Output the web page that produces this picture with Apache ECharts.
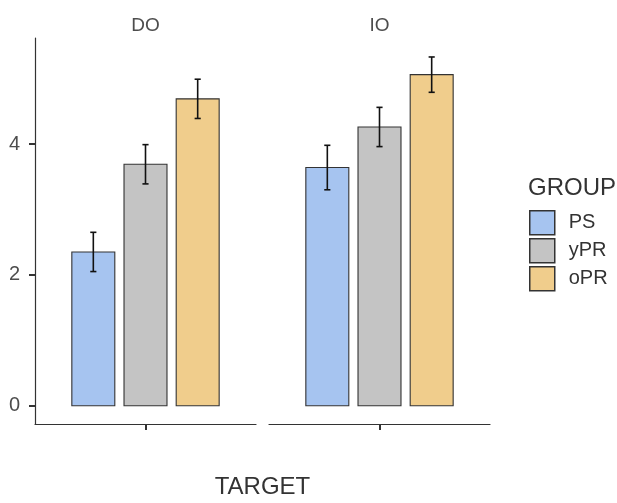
<!DOCTYPE html>
<html>
<head>
<meta charset="utf-8">
<script src="https://cdn.jsdelivr.net/npm/echarts@6/dist/echarts.min.js"></script>
<style>
  html, body { margin: 0; padding: 0; background: #fff; }
  #chart { width: 617px; height: 503px; }
</style>
</head>
<body>
<div id="chart"></div>
<script>
// Facets (TARGET) and fill groups
const targets = ['DO', 'IO'];
const groups = ['PS', 'yPR', 'oPR'];

// Group means per target (DO, IO)
const meanPS  = [2.35, 3.64];
const meanYPR = [3.69, 4.26];
const meanOPR = [4.69, 5.06];

// Standard errors per target (DO, IO)
const sePS  = [0.30, 0.34];
const seYPR = [0.30, 0.30];
const seOPR = [0.30, 0.27];

// Y tick labels
const yTicks = [0, 2, 4];

const means = [meanPS, meanYPR, meanOPR];
const ses = [sePS, seYPR, seOPR];
const fills = ['#a6c4f0', '#c4c4c4', '#f0cd8c'];

// dodge layout in x-data units (single category at x = 1)
const DODGE = 0.85, BAR_W = 0.7, CAP_W = 0.1;
const slot = DODGE / groups.length;
const halfBar = BAR_W / groups.length / 2;
const halfCap = CAP_W / groups.length / 2;

const FONT = "'Liberation Sans', Arial, sans-serif";
const AXIS_COLOR = '#333333';
const TEXT_COLOR = '#4d4d4d';

const gridLeft = [35, 269];
const gridWidth = 221;
const gridTop = 38;
const gridHeight = 386;

function renderBar(params, api) {
  const x = api.value(0), m = api.value(1), s = api.value(2);
  const b0 = api.coord([x - halfBar, 0]);
  const b1 = api.coord([x + halfBar, m]);
  const eTop = api.coord([x, m + s]);
  const eBot = api.coord([x, m - s]);
  const cL = api.coord([x - halfCap, m])[0];
  const cR = api.coord([x + halfCap, m])[0];
  const errStyle = { stroke: '#111', lineWidth: 1.6 };
  return {
    type: 'group',
    children: [
      {
        type: 'rect',
        shape: { x: b0[0], y: b1[1], width: b1[0] - b0[0], height: b0[1] - b1[1] },
        style: { fill: api.visual('color'), stroke: AXIS_COLOR, lineWidth: 1.1 }
      },
      { type: 'line', shape: { x1: eTop[0], y1: eTop[1], x2: eBot[0], y2: eBot[1] }, style: errStyle },
      { type: 'line', shape: { x1: cL, y1: eTop[1], x2: cR, y2: eTop[1] }, style: errStyle },
      { type: 'line', shape: { x1: cL, y1: eBot[1], x2: cR, y2: eBot[1] }, style: errStyle }
    ]
  };
}

const grids = [], xAxes = [], yAxes = [], series = [];

targets.forEach((t, ti) => {
  grids.push({ left: gridLeft[ti], top: gridTop, width: gridWidth, height: gridHeight });

  // bottom value axis carrying the dodged bars
  xAxes.push({
    type: 'value', gridIndex: ti, min: 0.4, max: 1.6,
    axisLine: { show: true, onZero: false, lineStyle: { color: AXIS_COLOR, width: 1.2 } },
    axisTick: { show: true, customValues: [1], length: 6, lineStyle: { color: AXIS_COLOR, width: 2 } },
    axisLabel: { show: false },
    splitLine: { show: false }
  });
  // top category axis used as the facet strip label
  xAxes.push({
    type: 'category', gridIndex: ti, position: 'top', data: [t],
    axisLine: { show: false }, axisTick: { show: false }, splitLine: { show: false },
    axisLabel: { show: true, margin: 3, color: TEXT_COLOR, fontSize: 19, fontFamily: FONT }
  });

  yAxes.push({
    type: 'value', gridIndex: ti, min: -0.28, max: 5.62,
    show: ti === 0,
    axisLine: { show: true, lineStyle: { color: AXIS_COLOR, width: 1.2 } },
    axisTick: { show: true, customValues: yTicks, length: 6, lineStyle: { color: AXIS_COLOR, width: 2 } },
    axisLabel: { show: true, customValues: yTicks, margin: 15, color: TEXT_COLOR, fontSize: 20, fontFamily: FONT },
    splitLine: { show: false }
  });

  groups.forEach((g, gi) => {
    series.push({
      type: 'custom',
      name: g,
      xAxisIndex: ti * 2,
      yAxisIndex: ti,
      itemStyle: { color: fills[gi], borderColor: AXIS_COLOR, borderWidth: 1 },
      encode: { x: 0, y: 1 },
      renderItem: renderBar,
      data: [[1 + (gi - 1) * slot, means[gi][ti], ses[gi][ti]]],
      silent: true
    });
  });
});

const chart = echarts.init(document.getElementById('chart'), null, { renderer: 'canvas' });
chart.setOption({
  animation: false,
  backgroundColor: '#ffffff',
  grid: grids,
  xAxis: xAxes,
  yAxis: yAxes,
  series: series,
  legend: {
    data: groups,
    orient: 'vertical',
    left: 529,
    top: 210,
    padding: 0,
    icon: 'rect',
    itemWidth: 25,
    itemHeight: 24,
    itemGap: 2.5,
    selectedMode: false,
    itemStyle: { borderColor: AXIS_COLOR, borderWidth: 1.5 },
    textStyle: { color: '#333', fontSize: 20, fontFamily: FONT, padding: [0, 0, 0, 9] }
  },
  graphic: [
    {
      type: 'text', left: 528, top: 176,
      style: { text: 'GROUP', fill: '#333', fontSize: 24, fontFamily: FONT }
    },
    {
      type: 'text', x: (gridLeft[0] + gridLeft[1] + gridWidth) / 2, y: 487,
      style: { text: 'TARGET', fill: '#333', fontSize: 24, fontFamily: FONT, align: 'center', verticalAlign: 'middle' }
    }
  ]
});
</script>
</body>
</html>
